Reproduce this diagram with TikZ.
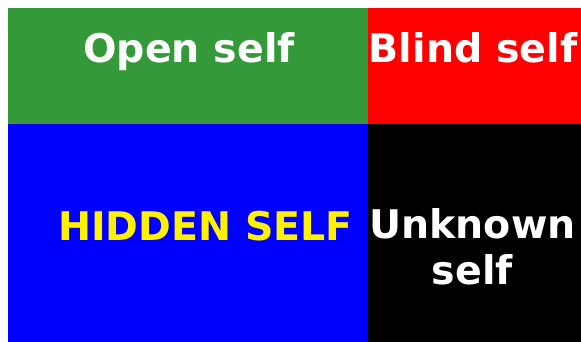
\documentclass[tikz,border=0pt]{standalone}
\usepackage{fontspec}
\setmainfont{DejaVu Sans}
\definecolor{opengreen}{RGB}{52,153,57}

\begin{document}
\begin{tikzpicture}[
    x=1pt, y=-1pt,
    cell/.style={draw=none},
    label/.style={anchor=base, inner sep=0pt, font=\bfseries\fontsize{39.5}{46}\selectfont},
    whitelabel/.style={label, text=white},
    yellowlabel/.style={label, text=yellow}
]
    \useasboundingbox (0,0) rectangle (581,342);
    \fill[white] (0,0) rectangle (581,342);
    % quadrants
    \fill[cell, opengreen] (8,8) rectangle (368,124);
    \fill[cell, red] (368,8) rectangle (581,124);
    \fill[cell, blue] (8,124) rectangle (368,342);
    \fill[cell, black] (368,124) rectangle (581,342);
    % labels
    \node[whitelabel] (open) at (189,63) {Open self};
    \node[whitelabel] (blind) at (473,63) {Blind self};
    \node[yellowlabel] (hidden) at (205.5,240) {HIDDEN SELF};
    \node[whitelabel] (unknown) at (472.5,238) {Unknown};
    \node[whitelabel] (unknownself) at (472.5,284) {self};
\end{tikzpicture}
\end{document}
